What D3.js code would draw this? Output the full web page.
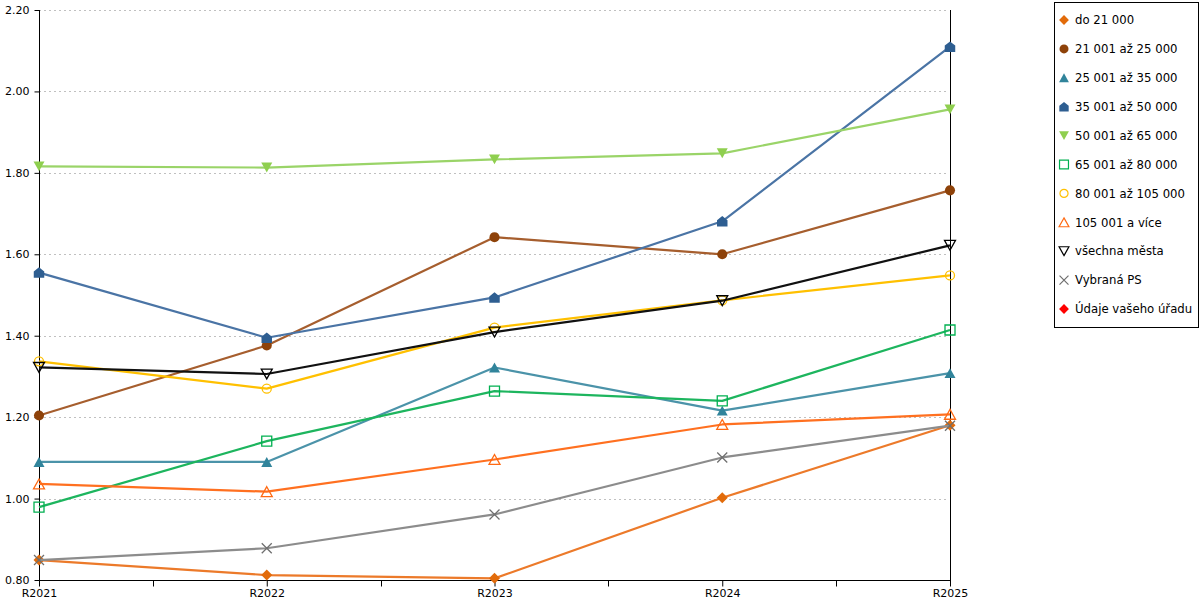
<!DOCTYPE html>
<html>
<head>
<meta charset="utf-8">
<script src="https://cdn.jsdelivr.net/npm/d3@7"></script>
<style>
  body { margin: 0; background: #fff; }
  text { font-family: "DejaVu Sans", Verdana, sans-serif; fill: #000; }
</style>
</head>
<body>
<div id="chart"></div>
<script>
// categories and values
var categories = ["R2021", "R2022", "R2023", "R2024", "R2025"];
var seriesNames = ["do 21 000", "21 001 až 25 000", "25 001 až 35 000", "35 001 až 50 000",
  "50 001 až 65 000", "65 001 až 80 000", "80 001 až 105 000", "105 001 a více",
  "všechna města", "Vybraná PS", "Údaje vašeho úřadu"];

var vDo21 = [0.849, 0.812, 0.804, 1.002, 1.180];
var v21to25 = [1.204, 1.376, 1.642, 1.600, 1.757];
var v25to35 = [1.090, 1.090, 1.322, 1.216, 1.308];
var v35to50 = [1.555, 1.395, 1.494, 1.681, 2.110];
var v50to65 = [1.816, 1.813, 1.833, 1.848, 1.956];
var v65to80 = [0.979, 1.141, 1.264, 1.240, 1.414];
var v80to105 = [1.337, 1.270, 1.420, 1.487, 1.548];
var v105plus = [1.036, 1.017, 1.096, 1.182, 1.207];
var vVsechna = [1.322, 1.306, 1.409, 1.486, 1.622];
var vVybrana = [0.849, 0.878, 0.961, 1.101, 1.179];
var vUrad = [];   // legend only, no points

var yTicks = [0.8, 1.0, 1.2, 1.4, 1.6, 1.8, 2.0, 2.2];

var seriesValues = [vDo21, v21to25, v25to35, v35to50, v50to65, v65to80,
  v80to105, v105plus, vVsechna, vVybrana, vUrad];

// svg container
var svgWidth = 1200;
var svgHeight = 600;
var plot = { left: 39, right: 950, top: 10, bottom: 580 };

var svg = d3.select("#chart")
  .append("svg")
  .attr("width", svgWidth)
  .attr("height", svgHeight);

// custom marker shapes
function tri(dir) {
  return {
    draw: function(ctx, size) {
      var w = Math.sqrt(size), h = w * 0.9;
      ctx.moveTo(0, -dir * h / 2);
      ctx.lineTo(w / 2, dir * h / 2);
      ctx.lineTo(-w / 2, dir * h / 2);
      ctx.closePath();
    }
  };
}
var diamond = {
  draw: function(ctx, size) {
    var r = Math.sqrt(size) / 2;
    ctx.moveTo(0, -r); ctx.lineTo(r, 0); ctx.lineTo(0, r); ctx.lineTo(-r, 0);
    ctx.closePath();
  }
};
var house = {
  draw: function(ctx, size) {
    var r = Math.sqrt(size) / 2;
    ctx.moveTo(0, -r); ctx.lineTo(r, -r * 0.2); ctx.lineTo(r, r);
    ctx.lineTo(-r, r); ctx.lineTo(-r, -r * 0.2);
    ctx.closePath();
  }
};
var square = {
  draw: function(ctx, size) {
    var r = Math.sqrt(size) / 2;
    ctx.rect(-r, -r, 2 * r, 2 * r);
  }
};
var cross = {
  draw: function(ctx, size) {
    var r = Math.sqrt(size) / 2;
    ctx.moveTo(-r, -r); ctx.lineTo(r, r);
    ctx.moveTo(r, -r); ctx.lineTo(-r, r);
  }
};

var styles = [
  { line: "#ec7a2a", type: diamond, fill: "#e26b0a", stroke: "none", size: 121 },
  { line: "#a65e2e", type: d3.symbolCircle, fill: "#8e4209", stroke: "none", size: 80 },
  { line: "#4b93a9", type: tri(1), fill: "#31849b", stroke: "none", size: 121 },
  { line: "#4a74a5", type: house, fill: "#2e5e91", stroke: "none", size: 110 },
  { line: "#9ad468", type: tri(-1), fill: "#8fcf4f", stroke: "none", size: 121 },
  { line: "#1db55e", type: square, fill: "none", stroke: "#00b050", size: 100 },
  { line: "#ffc000", type: d3.symbolCircle, fill: "none", stroke: "#ffc000", size: 64 },
  { line: "#ff7020", type: tri(1), fill: "none", stroke: "#ff6a13", size: 121 },
  { line: "#111111", type: tri(-1), fill: "none", stroke: "#000000", size: 121 },
  { line: "#8c8c8c", type: cross, fill: "none", stroke: "#6f6f6f", size: 100 },
  { line: "#ff0000", type: diamond, fill: "#ff0000", stroke: "none", size: 121 }
];

// scales
var xScale = d3.scalePoint()
  .domain(categories)
  .range([plot.left, plot.right]);

var yScale = d3.scaleLinear()
  .domain([0.8, 2.2])
  .range([plot.bottom, plot.top]);

// gridlines
svg.append("g")
  .selectAll("line")
  .data(yTicks.slice(1))
  .enter()
  .append("line")
  .attr("x1", plot.left)
  .attr("x2", plot.right - 2)
  .attr("y1", d => Math.round(yScale(d)) + 0.5)
  .attr("y2", d => Math.round(yScale(d)) + 0.5)
  .attr("stroke", "#c0c0c0")
  .attr("stroke-dasharray", "2,3");

// right border line
svg.append("line")
  .attr("x1", plot.right + 0.5).attr("x2", plot.right + 0.5)
  .attr("y1", plot.top).attr("y2", plot.bottom)
  .attr("stroke", "#000");

// y axis
var yAxis = d3.axisLeft(yScale)
  .tickValues(yTicks)
  .tickFormat(d3.format(".2f"))
  .tickSize(5)
  .tickPadding(5);

var yAxisG = svg.append("g")
  .attr("transform", `translate(${plot.left + 0.5}, 0)`)
  .call(yAxis);
yAxisG.select(".domain").remove();
yAxisG.append("line")
  .attr("y1", plot.top).attr("y2", plot.bottom + 6)
  .attr("stroke", "#000");
yAxisG.selectAll("text").style("font-size", "11px").attr("fill", "#000");

// x axis
var xAxis = d3.axisBottom(xScale)
  .tickSize(6)
  .tickPadding(3);

var xAxisG = svg.append("g")
  .attr("transform", `translate(0, ${plot.bottom + 0.5})`)
  .call(xAxis);
xAxisG.select(".domain").remove();
xAxisG.append("line")
  .attr("x1", plot.left).attr("x2", plot.right + 1)
  .attr("stroke", "#000");
xAxisG.selectAll("text").style("font-size", "11px").attr("fill", "#000");

// minor ticks between categories
var step = xScale.step();
xAxisG.selectAll(".mid")
  .data(categories.slice(1))
  .enter()
  .append("line")
  .attr("class", "mid")
  .attr("x1", d => Math.round(xScale(d) - step / 2) + 0.5)
  .attr("x2", d => Math.round(xScale(d) - step / 2) + 0.5)
  .attr("y1", 0).attr("y2", 6)
  .attr("stroke", "#000");

// lines and markers
var line = d3.line()
  .x((d, i) => xScale(categories[i]))
  .y(d => yScale(d));

var symbol = d3.symbol();

seriesValues.forEach(function(vals, s) {
  var st = styles[s];
  if (!vals.length) return;
  var g = svg.append("g");
  g.append("path")
    .datum(vals)
    .attr("d", line)
    .attr("fill", "none")
    .attr("stroke", st.line)
    .attr("stroke-width", 2.2)
    .attr("stroke-linejoin", "round");
  g.selectAll("path.mark")
    .data(vals)
    .enter()
    .append("path")
    .attr("class", "mark")
    .attr("transform", (d, i) => `translate(${xScale(categories[i])}, ${yScale(d)})`)
    .attr("d", symbol.type(st.type).size(st.size)())
    .attr("fill", st.fill)
    .attr("stroke", st.stroke)
    .attr("stroke-width", 1.3);
});

// legend
var legend = svg.append("g");
legend.append("rect")
  .attr("x", 1054.5).attr("y", 2.5)
  .attr("width", 144).attr("height", 325)
  .attr("fill", "#fff")
  .attr("stroke", "#000");

var items = legend.selectAll("g.item")
  .data(seriesNames)
  .enter()
  .append("g")
  .attr("class", "item")
  .attr("transform", (d, i) => `translate(1064, ${20 + i * 28.9})`);

items.append("path")
  .attr("d", (d, i) => symbol.type(styles[i].type).size(styles[i].size * 0.8)())
  .attr("fill", (d, i) => styles[i].fill)
  .attr("stroke", (d, i) => styles[i].stroke)
  .attr("stroke-width", 1.2);

items.append("text")
  .attr("x", 11)
  .attr("dy", "0.36em")
  .style("font-size", "11.7px")
  .text(d => d);
</script>
</body>
</html>
